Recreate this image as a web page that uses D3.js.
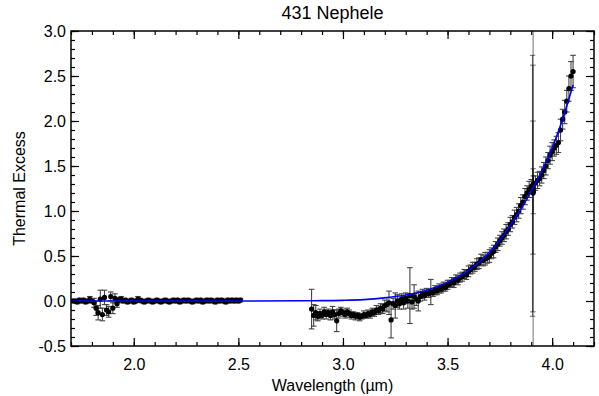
<!DOCTYPE html>
<html>
<head>
<meta charset="utf-8">
<script src="https://cdn.jsdelivr.net/npm/d3@7"></script>
<style>
    body{margin:0;background:#fff;}
    text{font-family:"Liberation Sans",Arial,Helvetica,sans-serif;fill:#000;}
</style>
</head>
<body>
<div id="chart"></div>
<script>
var titleText = "431 Nephele";
var xLabel = "Wavelength (\u00b5m)";
var yLabel = "Thermal Excess";
var xTicks = [2.0, 2.5, 3.0, 3.5, 4.0];
var yTicks = [-0.5, 0.0, 0.5, 1.0, 1.5, 2.0, 2.5, 3.0];

// short wavelength part of the spectrum
var shortWave = [1.71,1.72,1.73,1.74,1.75,1.76,1.77,1.78,1.79,1.80,1.81,1.82,1.83,1.84,1.85,1.86,1.87,1.88,1.89,1.90,
    1.91,1.92,1.93,1.94,1.95,1.96,1.97,1.98,1.99,2.00,2.01,2.02,2.03,2.04,2.05,2.06,2.07,2.08,2.09,2.10,
    2.11,2.12,2.13,2.14,2.15,2.16,2.17,2.18,2.19,2.20,2.21,2.22,2.23,2.24,2.25,2.26,2.27,2.28,2.29,2.30,
    2.31,2.32,2.33,2.34,2.35,2.36,2.37,2.38,2.39,2.40,2.41,2.42,2.43,2.44,2.45,2.46,2.47,2.48,2.49,2.50,2.51];
var shortExcess = [0.00,0.00,-0.01,0.01,0.00,0.01,-0.01,0.00,0.02,0.00,-0.02,-0.08,-0.13,0.02,-0.15,0.04,-0.10,-0.12,0.05,-0.08,
    0.03,-0.03,0.01,0.02,0.00,0.01,-0.01,0.00,0.01,-0.01,0.00,0.02,0.01,0.00,-0.01,0.00,0.01,0.00,-0.01,0.00,
    0.01,0.00,-0.01,0.00,0.01,0.00,-0.01,0.00,0.01,0.00,0.01,-0.01,0.00,0.01,0.00,0.01,0.00,-0.01,0.00,0.01,
    0.00,0.01,-0.01,0.00,0.01,0.00,0.01,0.00,-0.01,0.01,0.00,0.01,0.00,-0.01,0.01,0.00,0.01,0.00,0.01,0.00,0.01];
var shortError = [0.02,0.02,0.02,0.02,0.02,0.02,0.02,0.02,0.03,0.02,0.05,0.08,0.08,0.10,0.07,0.08,0.06,0.06,0.05,0.06,
    0.05,0.04,0.03,0.03,0.02,0.02,0.02,0.02,0.02,0.02,0.02,0.03,0.02,0.02,0.02,0.02,0.02,0.02,0.02,0.02,
    0.02,0.02,0.02,0.02,0.02,0.02,0.02,0.02,0.02,0.02,0.02,0.02,0.02,0.02,0.02,0.02,0.02,0.02,0.02,0.02,
    0.02,0.02,0.02,0.02,0.02,0.02,0.02,0.02,0.02,0.02,0.02,0.02,0.02,0.02,0.02,0.02,0.02,0.02,0.02,0.02,0.02];

// long wavelength part of the spectrum
var longWave = [2.85,2.86,2.87,2.88,2.89,2.90,2.91,2.92,2.93,2.94,2.95,2.96,2.97,2.98,2.99,3.00,3.01,3.02,3.03,3.04,
    3.05,3.06,3.07,3.08,3.09,3.10,3.11,3.12,3.13,3.14,3.15,3.16,3.17,3.18,3.19,3.20,3.21,3.22,3.23,3.24,
    3.25,3.26,3.27,3.28,3.29,3.30,3.31,3.32,3.33,3.34,3.35,3.36,3.37,3.38,3.39,3.40,3.41,3.42,3.43,3.44,
    3.45,3.46,3.47,3.48,3.49,3.50,3.51,3.52,3.53,3.54,3.55,3.56,3.57,3.58,3.59,3.60,3.61,3.62,3.63,3.64,
    3.65,3.66,3.67,3.68,3.69,3.70,3.71,3.72,3.73,3.74,3.75,3.76,3.77,3.78,3.79,3.80,3.81,3.82,3.83,3.84,
    3.85,3.86,3.87,3.88,3.89,3.90,3.91,3.92,3.93,3.94,3.95,3.96,3.97,3.98,3.99,4.00,4.01,4.02,4.03,4.04,
    4.05,4.06,4.07,4.08,4.09,4.10];
var longExcess = [-0.09,-0.16,-0.13,-0.17,-0.14,-0.16,-0.12,-0.15,-0.13,-0.16,-0.12,-0.15,-0.22,-0.14,-0.11,-0.13,-0.15,-0.12,-0.14,-0.16,
    -0.15,-0.17,-0.16,-0.18,-0.17,-0.15,-0.16,-0.14,-0.15,-0.12,-0.13,-0.10,-0.11,-0.08,-0.09,-0.05,-0.04,-0.02,-0.21,-0.03,
    -0.05,0.00,-0.03,0.02,-0.02,0.03,0.00,0.06,-0.01,0.05,0.02,0.00,0.05,0.08,0.06,0.09,0.08,0.10,0.09,0.12,
    0.11,0.14,0.13,0.16,0.15,0.18,0.19,0.21,0.20,0.24,0.23,0.26,0.27,0.30,0.29,0.33,0.35,0.37,0.38,0.41,
    0.42,0.46,0.45,0.47,0.48,0.50,0.53,0.55,0.60,0.63,0.67,0.70,0.73,0.77,0.80,0.85,0.88,0.93,0.96,1.00,
    1.06,1.10,1.16,1.20,1.24,1.27,1.30,1.31,1.34,1.36,1.40,1.45,1.50,1.56,1.62,1.66,1.70,1.73,1.76,1.90,
    2.02,2.10,2.22,2.36,2.50,2.55];
var longError = [0.22,0.12,0.08,0.05,0.05,0.04,0.05,0.05,0.04,0.05,0.06,0.05,0.12,0.05,0.04,0.04,0.04,0.04,0.04,0.04,
    0.03,0.04,0.03,0.04,0.03,0.04,0.03,0.04,0.04,0.04,0.04,0.05,0.04,0.05,0.05,0.06,0.08,0.13,0.20,0.06,
    0.14,0.07,0.06,0.06,0.07,0.06,0.08,0.31,0.08,0.13,0.07,0.11,0.05,0.05,0.05,0.05,0.04,0.14,0.04,0.05,
    0.04,0.05,0.04,0.05,0.04,0.05,0.04,0.05,0.05,0.05,0.05,0.05,0.05,0.05,0.05,0.06,0.05,0.06,0.05,0.06,
    0.06,0.06,0.06,0.07,0.06,0.07,0.06,0.07,0.06,0.07,0.06,0.07,0.07,0.08,0.07,0.08,0.07,0.08,0.08,0.08,
    0.09,0.08,0.09,0.08,0.09,0.08,0.09,0.08,0.09,0.08,0.09,0.09,0.10,0.09,0.10,0.10,0.09,0.10,0.11,0.12,
    0.11,0.13,0.12,0.14,0.16,0.18];

// the noisy channels near 3.91 um
var spikeWave = [3.906, 3.908, 3.908, 3.910, 3.909];
var spikeExcess = [1.28, 1.25, 1.26, 1.22, 1.20];
var spikeError = [1.45, 1.37, 0.74, 0.25, 6.0];

// thermal model (blue)
var modelWave = [1.70,2.50,2.80,2.90,3.00,3.10,3.20,3.30,3.40,3.50,3.60,3.70,3.80,3.85,3.90,3.95,4.00,4.05,4.10];
var modelExcess = [0.0,0.0,0.002,0.004,0.007,0.015,0.035,0.066,0.12,0.21,0.34,0.54,0.84,1.02,1.22,1.44,1.70,2.02,2.40];

var width = 599, height = 396;
var margin = {top: 31, right: 5, bottom: 50, left: 71};

function toPoints(w, v, e){
    var pts = [];
    for(var i=0;i<w.length;i++){
        pts.push({w: w[i], v: v[i], e: e[i]});
    }
    return pts;
}

var svg = d3.select("#chart")
    .append("svg")
    .attr("width", width)
    .attr("height", height);

var x = d3.scaleLinear().domain([1.7, 4.2]).range([margin.left, width - margin.right]);
var y = d3.scaleLinear().domain([-0.5, 3.0]).range([height - margin.bottom, margin.top]);

svg.append("clipPath").attr("id", "plotClip")
    .append("rect")
    .attr("x", margin.left).attr("y", margin.top)
    .attr("width", width - margin.left - margin.right)
    .attr("height", height - margin.top - margin.bottom);

var plot = svg.append("g").attr("clip-path", "url(#plotClip)");

function drawErrorBars(pts, color, sw){
    var g = plot.append("g");
    var bars = g.selectAll("g").data(pts).enter().append("g");
    bars.append("line")
        .attr("x1", function(d){ return x(d.w); })
        .attr("x2", function(d){ return x(d.w); })
        .attr("y1", function(d){ return y(d.v - d.e); })
        .attr("y2", function(d){ return y(d.v + d.e); })
        .attr("stroke", color).attr("stroke-width", sw);
    [-1, 1].forEach(function(s){
        bars.append("line")
            .attr("x1", function(d){ return x(d.w) - 2.8; })
            .attr("x2", function(d){ return x(d.w) + 2.8; })
            .attr("y1", function(d){ return y(d.v + s*d.e); })
            .attr("y2", function(d){ return y(d.v + s*d.e); })
            .attr("stroke", color).attr("stroke-width", sw);
    });
}

function drawDots(pts){
    plot.append("g").selectAll("circle").data(pts).enter()
        .append("circle")
        .attr("cx", function(d){ return x(d.w); })
        .attr("cy", function(d){ return y(d.v); })
        .attr("r", 2.6)
        .attr("fill", "#000");
}

var shortPts = toPoints(shortWave, shortExcess, shortError);
var longPts = toPoints(longWave, longExcess, longError);
var spikePts = toPoints(spikeWave, spikeExcess, spikeError);

drawErrorBars(shortPts, "#444", 1.1);
drawErrorBars(longPts, "#444", 1.1);
drawErrorBars(spikePts, "rgba(0,0,0,0.5)", 1.1);
drawDots(shortPts);
drawDots(longPts);
drawDots(spikePts);

// model curve on top of the data
var modelPts = modelWave.map(function(w, i){ return {w: w, v: modelExcess[i]}; });
plot.append("path")
    .datum(modelPts)
    .attr("d", d3.line()
        .x(function(d){ return x(d.w); })
        .y(function(d){ return y(d.v); })
        .curve(d3.curveMonotoneX))
    .attr("fill", "none")
    .attr("stroke", "#0000ff")
    .attr("stroke-width", 1.6);

// axes, ticks point inwards on all four sides
var fmt = function(d){ return d.toFixed(1); };
var minorX = x.ticks(25), minorY = y.ticks(35);
var bottomY = height - margin.bottom, rightX = width - margin.right;

function styleAxis(g){
    g.select(".domain").remove();
    g.selectAll(".tick line").attr("stroke", "#000").attr("stroke-width", 1.2);
    g.selectAll("text").style("font-size", "16px").attr("fill", "#000");
}

svg.append("g").attr("transform", "translate(0," + bottomY + ")")
    .call(d3.axisBottom(x).tickValues(minorX).tickSize(-4).tickFormat(""))
    .call(styleAxis);
svg.append("g").attr("transform", "translate(0," + margin.top + ")")
    .call(d3.axisTop(x).tickValues(minorX).tickSize(-4).tickFormat(""))
    .call(styleAxis);
svg.append("g").attr("transform", "translate(" + margin.left + ",0)")
    .call(d3.axisLeft(y).tickValues(minorY).tickSize(-4).tickFormat(""))
    .call(styleAxis);
svg.append("g").attr("transform", "translate(" + rightX + ",0)")
    .call(d3.axisRight(y).tickValues(minorY).tickSize(-4).tickFormat(""))
    .call(styleAxis);

svg.append("g").attr("transform", "translate(0," + bottomY + ")")
    .call(d3.axisBottom(x).tickValues(xTicks).tickSize(-8).tickPadding(13).tickFormat(fmt))
    .call(styleAxis);
svg.append("g").attr("transform", "translate(0," + margin.top + ")")
    .call(d3.axisTop(x).tickValues(xTicks).tickSize(-8).tickFormat(""))
    .call(styleAxis);
svg.append("g").attr("transform", "translate(" + margin.left + ",0)")
    .call(d3.axisLeft(y).tickValues(yTicks).tickSize(-8).tickPadding(5).tickFormat(fmt))
    .call(styleAxis);
svg.append("g").attr("transform", "translate(" + rightX + ",0)")
    .call(d3.axisRight(y).tickValues(yTicks).tickSize(-8).tickFormat(""))
    .call(styleAxis);

// frame
svg.append("rect")
    .attr("x", margin.left).attr("y", margin.top)
    .attr("width", rightX - margin.left)
    .attr("height", bottomY - margin.top)
    .attr("fill", "none")
    .attr("stroke", "#000")
    .attr("stroke-width", 1.5);

// titles
svg.append("text")
    .attr("x", (margin.left + rightX) / 2)
    .attr("y", 19)
    .attr("text-anchor", "middle")
    .style("font-size", "18px")
    .text(titleText);

svg.append("text")
    .attr("x", (margin.left + rightX) / 2)
    .attr("y", 391)
    .attr("text-anchor", "middle")
    .style("font-size", "16px")
    .text(xLabel);

svg.append("text")
    .attr("transform", "translate(25," + ((margin.top + bottomY) / 2) + ") rotate(-90)")
    .attr("text-anchor", "middle")
    .style("font-size", "16px")
    .text(yLabel);
</script>
</body>
</html>
